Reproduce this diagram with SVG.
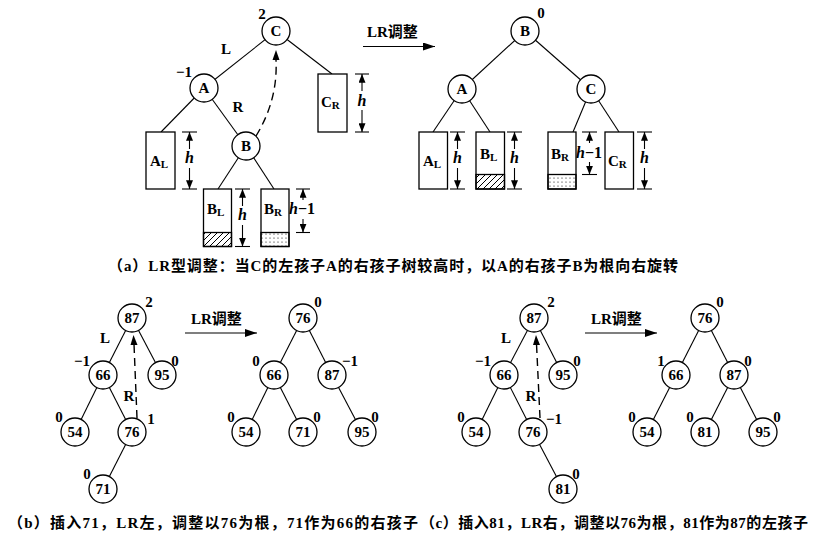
<svg xmlns="http://www.w3.org/2000/svg" width="824" height="543" viewBox="0 0 824 543">
<style>
.e{stroke:#000;stroke-width:1.1;fill:none}
.n{fill:#fff;stroke:#000;stroke-width:1.3}
.r{fill:#fff;stroke:#000;stroke-width:1.3}
.t{font-family:"Liberation Serif","Noto Sans CJK SC",serif;font-weight:bold;font-size:15px;text-anchor:middle;fill:#000}
.b{font-family:"Liberation Serif","Noto Sans CJK SC",serif;font-weight:bold;font-size:15px;fill:#000}
.h{font-family:"Liberation Serif",serif;font-weight:bold;font-style:italic;font-size:16px;text-anchor:middle}
.d{stroke:#000;stroke-width:1.4;fill:none;stroke-dasharray:8,5}
.cap{font-family:"Liberation Serif","Noto Sans CJK SC",serif;font-weight:bold;font-size:15px;fill:#000}
.a{stroke:#000;stroke-width:1.1;fill:none;marker-end:url(#ah)}
.m{stroke:#000;stroke-width:1.2;fill:none;marker-end:url(#am)}
</style>
<defs>
<marker id="ah" viewBox="0 0 10 8" refX="10" refY="4" markerWidth="9" markerHeight="7" markerUnits="userSpaceOnUse" orient="auto"><path d="M0,0 L10,4 L0,8 z" fill="#000"/></marker>
<marker id="am" viewBox="0 0 12 8" refX="12" refY="4" markerWidth="12" markerHeight="8" markerUnits="userSpaceOnUse" orient="auto"><path d="M0,0 L12,4 L0,8 z" fill="#000"/></marker>
<pattern id="hatch" patternUnits="userSpaceOnUse" width="6" height="6"><path d="M-1,7 L7,-1 M-1,1 L1,-1 M5,7 L7,5" stroke="#000" stroke-width="1"/></pattern>
<pattern id="dots" patternUnits="userSpaceOnUse" width="4" height="4"><circle cx="2" cy="2" r="0.6" fill="#000"/></pattern>
</defs>
<rect width="824" height="543" fill="#fff"/>

<g id="connectors">
<line class="e" x1="276" y1="31" x2="204" y2="88"/>
<line class="e" x1="276" y1="31" x2="332" y2="74"/>
<line class="e" x1="204" y1="88" x2="161" y2="132"/>
<line class="e" x1="204" y1="88" x2="246" y2="146"/>
<line class="e" x1="246" y1="146" x2="218" y2="189"/>
<line class="e" x1="246" y1="146" x2="274" y2="189"/>
<path class="d" d="M256,136 Q278,100 276,60"/>
<path d="M276,50 L272.5,60 L279.5,60 z" fill="#000"/>
<line class="e" x1="525" y1="31" x2="462" y2="89"/>
<line class="e" x1="525" y1="31" x2="591" y2="89"/>
<line class="e" x1="462" y1="89" x2="433" y2="132"/>
<line class="e" x1="462" y1="89" x2="490" y2="132"/>
<line class="e" x1="591" y1="89" x2="573" y2="132"/>
<line class="e" x1="591" y1="89" x2="619" y2="132"/>
<line class="m" x1="363" y1="46.5" x2="435" y2="46.5"/>
<line class="e" x1="132" y1="318" x2="103" y2="375"/>
<line class="e" x1="132" y1="318" x2="162" y2="375"/>
<line class="e" x1="103" y1="375" x2="75" y2="432"/>
<line class="e" x1="103" y1="375" x2="132" y2="432"/>
<line class="e" x1="132" y1="432" x2="103" y2="489"/>
<path class="d" d="M137,418 L134,344"/>
<path d="M133.5,335 L130.5,345 L137.5,345 z" fill="#000"/>
<line class="m" x1="185" y1="333" x2="257" y2="333"/>
<line class="e" x1="303" y1="318" x2="274" y2="375"/>
<line class="e" x1="303" y1="318" x2="332" y2="375"/>
<line class="e" x1="274" y1="375" x2="246" y2="432"/>
<line class="e" x1="274" y1="375" x2="303" y2="432"/>
<line class="e" x1="332" y1="375" x2="362" y2="432"/>
<line class="e" x1="534" y1="318" x2="504" y2="375"/>
<line class="e" x1="534" y1="318" x2="563" y2="375"/>
<line class="e" x1="504" y1="375" x2="476" y2="432"/>
<line class="e" x1="504" y1="375" x2="533" y2="432"/>
<line class="e" x1="533" y1="432" x2="563" y2="489"/>
<path class="d" d="M540,418 L536.5,344"/>
<path d="M536,335 L533,345 L540,345 z" fill="#000"/>
<line class="m" x1="585" y1="333" x2="657" y2="333"/>
<line class="e" x1="705" y1="318" x2="676" y2="375"/>
<line class="e" x1="705" y1="318" x2="734" y2="375"/>
<line class="e" x1="676" y1="375" x2="647" y2="432"/>
<line class="e" x1="734" y1="375" x2="705" y2="432"/>
<line class="e" x1="734" y1="375" x2="763" y2="432"/>
<line class="e" x1="182" y1="132" x2="197" y2="132"/><line class="e" x1="182" y1="189" x2="197" y2="189"/>
<line class="a" x1="189.5" y1="149" x2="189.5" y2="132"/><line class="a" x1="189.5" y1="168" x2="189.5" y2="189"/>
<line class="e" x1="355" y1="74" x2="369" y2="74"/><line class="e" x1="355" y1="132" x2="369" y2="132"/>
<line class="a" x1="362" y1="91" x2="362" y2="74"/><line class="a" x1="362" y1="110" x2="362" y2="132"/>
<line class="e" x1="235" y1="189" x2="250" y2="189"/><line class="e" x1="235" y1="246.5" x2="250" y2="246.5"/>
<line class="a" x1="242.5" y1="206" x2="242.5" y2="189"/><line class="a" x1="242.5" y1="225" x2="242.5" y2="246.5"/>
<line class="e" x1="296" y1="189" x2="310" y2="189"/><line class="e" x1="296" y1="232.5" x2="310" y2="232.5"/>
<line class="a" x1="303" y1="200" x2="303" y2="189"/><line class="a" x1="303" y1="219" x2="303" y2="232.5"/>
<line class="e" x1="450" y1="132" x2="465" y2="132"/><line class="e" x1="450" y1="189" x2="465" y2="189"/>
<line class="a" x1="457.5" y1="149" x2="457.5" y2="132"/><line class="a" x1="457.5" y1="168" x2="457.5" y2="189"/>
<line class="e" x1="507" y1="132" x2="522" y2="132"/><line class="e" x1="507" y1="189" x2="522" y2="189"/>
<line class="a" x1="514.5" y1="149" x2="514.5" y2="132"/><line class="a" x1="514.5" y1="168" x2="514.5" y2="189"/>
<line class="e" x1="582" y1="132" x2="597" y2="132"/><line class="e" x1="582" y1="174.5" x2="597" y2="174.5"/>
<line class="a" x1="589.5" y1="143" x2="589.5" y2="132"/><line class="a" x1="589.5" y1="162" x2="589.5" y2="174.5"/>
<line class="e" x1="637" y1="132" x2="652" y2="132"/><line class="e" x1="637" y1="189" x2="652" y2="189"/>
<line class="a" x1="644.5" y1="149" x2="644.5" y2="132"/><line class="a" x1="644.5" y1="168" x2="644.5" y2="189"/>
</g>

<g id="a-left">
<g id="nC"><circle class="n" cx="276" cy="31" r="14"/><text class="t" x="276" y="36">C</text><text class="t" x="262" y="19">2</text></g>
<g id="nA"><circle class="n" cx="204" cy="88" r="14"/><text class="t" x="204" y="93">A</text><text class="t" x="184" y="77">−1</text></g>
<g id="nB"><circle class="n" cx="246" cy="146" r="14"/><text class="t" x="246" y="151">B</text></g>
<text class="t" x="226" y="54">L</text>
<text class="t" x="238" y="112">R</text>
<g id="tCR"><rect class="r" x="318" y="74" width="29" height="58"/><text class="b" x="321" y="107">C<tspan font-size="11" dy="2">R</tspan></text><text class="h" x="362" y="106">h</text></g>
<g id="tAL"><rect class="r" x="146" y="132" width="29" height="57"/><text class="b" x="150" y="166">A<tspan font-size="11" dy="2">L</tspan></text><text class="h" x="189.5" y="163">h</text></g>
<g id="tBL"><rect class="r" x="203.5" y="189" width="28" height="57.5"/><rect x="203.5" y="232.5" width="28" height="14" fill="url(#hatch)" stroke="#000" stroke-width="1.3"/><text class="b" x="207" y="214">B<tspan font-size="11" dy="2">L</tspan></text><text class="h" x="242.5" y="220">h</text></g>
<g id="tBR"><rect class="r" x="261" y="189" width="28" height="57.5"/><rect x="261" y="232.5" width="28" height="14" fill="url(#dots)" stroke="#000" stroke-width="1.3"/><text class="b" x="264" y="214">B<tspan font-size="11" dy="2">R</tspan></text><text class="h" x="302" y="214">h<tspan font-style="normal">−1</tspan></text></g>
</g>

<text class="cap" x="367" y="37" font-size="15">LR调整</text>

<g id="a-right">
<g id="nB2"><circle class="n" cx="525" cy="31" r="14"/><text class="t" x="525" y="36">B</text><text class="t" x="541" y="18">0</text></g>
<g id="nA2"><circle class="n" cx="462" cy="89" r="14"/><text class="t" x="462" y="94">A</text></g>
<g id="nC2"><circle class="n" cx="591" cy="89" r="14"/><text class="t" x="591" y="94">C</text></g>
<g id="tAL2"><rect class="r" x="419" y="132" width="28.5" height="57"/><text class="b" x="423" y="166">A<tspan font-size="11" dy="2">L</tspan></text><text class="h" x="457.5" y="163">h</text></g>
<g id="tBL2"><rect class="r" x="476" y="132" width="28.5" height="57"/><rect x="476" y="174.5" width="28.5" height="14.5" fill="url(#hatch)" stroke="#000" stroke-width="1.3"/><text class="b" x="480" y="159">B<tspan font-size="11" dy="2">L</tspan></text><text class="h" x="514.5" y="163">h</text></g>
<g id="tBR2"><rect class="r" x="548" y="132" width="28" height="57"/><rect x="548" y="174.5" width="28" height="14.5" fill="url(#dots)" stroke="#000" stroke-width="1.3"/><text class="b" x="551" y="159">B<tspan font-size="11" dy="2">R</tspan></text><text class="h" x="589" y="158">h<tspan font-style="normal">−1</tspan></text></g>
<g id="tCR2"><rect class="r" x="605" y="132" width="28.5" height="57"/><text class="b" x="608" y="166">C<tspan font-size="11" dy="2">R</tspan></text><text class="h" x="644.5" y="163">h</text></g>
</g>

<text class="cap" x="108" y="271" textLength="570">（a）LR型调整：当C的左孩子A的右孩子树较高时，以A的右孩子B为根向右旋转</text>

<g id="b-left">
<g><circle class="n" cx="132" cy="318" r="14"/><text class="t" x="132" y="323">87</text><text class="t" x="149" y="307">2</text></g>
<g><circle class="n" cx="103" cy="375" r="14"/><text class="t" x="103" y="380">66</text><text class="t" x="82" y="366">−1</text></g>
<g><circle class="n" cx="162" cy="375" r="14"/><text class="t" x="162" y="380">95</text><text class="t" x="175" y="366">0</text></g>
<g><circle class="n" cx="75" cy="432" r="14"/><text class="t" x="75" y="437">54</text><text class="t" x="59" y="422">0</text></g>
<g><circle class="n" cx="132" cy="432" r="14"/><text class="t" x="132" y="437">76</text><text class="t" x="151" y="424">1</text></g>
<g><circle class="n" cx="103" cy="489" r="14"/><text class="t" x="103" y="494">71</text><text class="t" x="87" y="479">0</text></g>
<text class="t" x="105" y="343">L</text>
<text class="t" x="129" y="401">R</text>
</g>
<text class="cap" x="191" y="324" font-size="15">LR调整</text>

<g id="b-right">
<g><circle class="n" cx="303" cy="318" r="14"/><text class="t" x="303" y="323">76</text><text class="t" x="318" y="307">0</text></g>
<g><circle class="n" cx="274" cy="375" r="14"/><text class="t" x="274" y="380">66</text><text class="t" x="256" y="366">0</text></g>
<g><circle class="n" cx="332" cy="375" r="14"/><text class="t" x="332" y="380">87</text><text class="t" x="350" y="366">−1</text></g>
<g><circle class="n" cx="246" cy="432" r="14"/><text class="t" x="246" y="437">54</text><text class="t" x="231" y="422">0</text></g>
<g><circle class="n" cx="303" cy="432" r="14"/><text class="t" x="303" y="437">71</text><text class="t" x="317" y="422">0</text></g>
<g><circle class="n" cx="362" cy="432" r="14"/><text class="t" x="362" y="437">95</text><text class="t" x="375" y="422">0</text></g>
</g>

<g id="c-left">
<g><circle class="n" cx="534" cy="318" r="14"/><text class="t" x="534" y="323">87</text><text class="t" x="551" y="307">2</text></g>
<g><circle class="n" cx="504" cy="375" r="14"/><text class="t" x="504" y="380">66</text><text class="t" x="483" y="366">−1</text></g>
<g><circle class="n" cx="563" cy="375" r="14"/><text class="t" x="563" y="380">95</text><text class="t" x="577" y="366">0</text></g>
<g><circle class="n" cx="476" cy="432" r="14"/><text class="t" x="476" y="437">54</text><text class="t" x="461" y="422">0</text></g>
<g><circle class="n" cx="533" cy="432" r="14"/><text class="t" x="533" y="437">76</text><text class="t" x="554" y="424">−1</text></g>
<g><circle class="n" cx="563" cy="489" r="14"/><text class="t" x="563" y="494">81</text><text class="t" x="576" y="479">0</text></g>
<text class="t" x="506" y="343">L</text>
<text class="t" x="531" y="401">R</text>
</g>
<text class="cap" x="591" y="324" font-size="15">LR调整</text>

<g id="c-right">
<g><circle class="n" cx="705" cy="318" r="14"/><text class="t" x="705" y="323">76</text><text class="t" x="720" y="307">0</text></g>
<g><circle class="n" cx="676" cy="375" r="14"/><text class="t" x="676" y="380">66</text><text class="t" x="661" y="366">1</text></g>
<g><circle class="n" cx="734" cy="375" r="14"/><text class="t" x="734" y="380">87</text><text class="t" x="748" y="366">0</text></g>
<g><circle class="n" cx="647" cy="432" r="14"/><text class="t" x="647" y="437">54</text><text class="t" x="632" y="422">0</text></g>
<g><circle class="n" cx="705" cy="432" r="14"/><text class="t" x="705" y="437">81</text><text class="t" x="690" y="422">0</text></g>
<g><circle class="n" cx="763" cy="432" r="14"/><text class="t" x="763" y="437">95</text><text class="t" x="777" y="422">0</text></g>
</g>

<text class="cap" x="8" y="528" font-size="14" textLength="410">（b）插入71，LR左，调整以76为根，71作为66的右孩子</text>
<text class="cap" x="420" y="528" font-size="14" textLength="388">（c）插入81，LR右，调整以76为根，81作为87的左孩子</text>
</svg>
